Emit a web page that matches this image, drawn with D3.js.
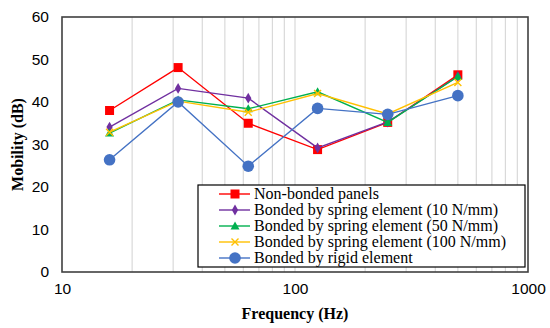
<!DOCTYPE html>
<html>
<head>
<meta charset="utf-8">
<script src="https://cdn.jsdelivr.net/npm/d3@7"></script>
<style>
  body { margin: 0; background: #fff; }
  svg { display: block; font-family: "Liberation Serif", "DejaVu Serif", "Times New Roman", serif; }
</style>
</head>
<body>
<div id="chart"></div>
<script>
// Data
const frequencies = [16, 31.5, 63, 125, 250, 500];
const nonBonded   = [38, 48.1, 35, 28.8, 35.2, 46.4];
const spring10    = [34.1, 43.2, 40.9, 29.2, 35.3, 46];
const spring50    = [32.7, 40.5, 38.4, 42.4, 35.2, 46];
const spring100   = [32.9, 40.2, 37.6, 42, 37.2, 44.6];
const rigid       = [26.4, 40, 24.9, 38.5, 37.1, 41.5];
const yTicks = [0, 10, 20, 30, 40, 50, 60];
const xTicks = [10, 100, 1000];

const series = [
  { name: 'Non-bonded panels',                        values: nonBonded, color: '#ff0000', symbol: 'square' },
  { name: 'Bonded by spring element (10 N/mm)',       values: spring10,  color: '#7030a0', symbol: 'diamond' },
  { name: 'Bonded by spring element (50 N/mm)',       values: spring50,  color: '#00b050', symbol: 'triangle' },
  { name: 'Bonded by spring element (100 N/mm)',      values: spring100, color: '#ffc000', symbol: 'cross' },
  { name: 'Bonded by rigid element',                  values: rigid,     color: '#4472c4', symbol: 'circle' },
];

const width = 550, height = 328;
const margin = { top: 17, right: 22, bottom: 56, left: 62 };

const svg = d3.select('#chart').append('svg')
  .attr('width', width).attr('height', height);

const x = d3.scaleLog().domain([10, 1000]).range([margin.left, width - margin.right]);
const y = d3.scaleLinear().domain([0, 60]).range([height - margin.bottom, margin.top]);

// minor + major vertical gridlines
const gridVals = [];
[10, 100].forEach(dec => { for (let k = 2; k <= 10; k++) gridVals.push(dec * k); });
svg.append('g')
  .selectAll('line')
  .data(gridVals.filter(v => v < 1000))
  .join('line')
  .attr('x1', d => x(d)).attr('x2', d => x(d))
  .attr('y1', y(60)).attr('y2', y(0))
  .attr('stroke', '#d9d9d9').attr('stroke-width', 1.2);

// axes
const xAxis = svg.append('g')
  .attr('transform', `translate(0,${y(0)})`)
  .call(d3.axisBottom(x).tickValues(xTicks).tickFormat(d3.format('d')).tickSize(0).tickPadding(11));
const yAxis = svg.append('g')
  .attr('transform', `translate(${x(10)},0)`)
  .call(d3.axisLeft(y).tickValues(yTicks).tickSize(0).tickPadding(13));
[xAxis, yAxis].forEach(a => {
  a.select('.domain').remove();
  a.selectAll('text').attr('font-size', 15.5).attr('fill', '#000')
    .attr('font-family', null);
});

// plot frame
svg.append('rect')
  .attr('x', x(10)).attr('y', y(60))
  .attr('width', x(1000) - x(10)).attr('height', y(0) - y(60))
  .attr('fill', 'none').attr('stroke', '#404040').attr('stroke-width', 1.6);

// axis titles
svg.append('text')
  .attr('x', (x(10) + x(1000)) / 2).attr('y', 319)
  .attr('text-anchor', 'middle').attr('font-size', 16).attr('font-weight', 'bold')
  .text('Frequency (Hz)');
svg.append('text')
  .attr('transform', `translate(23,${(y(0) + y(60)) / 2}) rotate(-90)`)
  .attr('text-anchor', 'middle').attr('font-size', 16).attr('font-weight', 'bold')
  .text('Mobility (dB)');

function drawMarker(g, s) {
  if (s.symbol === 'square') {
    g.append('rect').attr('x', -4.5).attr('y', -4.5).attr('width', 9).attr('height', 9).attr('fill', s.color);
  } else if (s.symbol === 'diamond') {
    g.append('path').attr('d', d3.symbol(d3.symbolDiamond, 34)()).attr('fill', s.color);
  } else if (s.symbol === 'triangle') {
    g.append('path').attr('d', 'M0,-4.5L4.5,3.5L-4.5,3.5Z').attr('fill', s.color);
  } else if (s.symbol === 'cross') {
    g.append('path').attr('d', 'M-3.5,-3.5L3.5,3.5M-3.5,3.5L3.5,-3.5')
      .attr('stroke', s.color).attr('stroke-width', 1.4).attr('fill', 'none');
  } else {
    g.append('circle').attr('r', 5.8).attr('fill', s.color);
  }
}

const line = d3.line().x((d, i) => x(frequencies[i])).y(d => y(d));

series.forEach(s => {
  const g = svg.append('g');
  g.append('path').datum(s.values)
    .attr('d', line).attr('fill', 'none')
    .attr('stroke', s.color).attr('stroke-width', 1.4);
  g.selectAll('g.pt')
    .data(s.values)
    .join('g')
    .attr('class', 'pt')
    .attr('transform', (d, i) => `translate(${x(frequencies[i])},${y(d)})`)
    .each(function() { drawMarker(d3.select(this), s); });
});

// legend
const legend = svg.append('g').attr('transform', 'translate(198,185)');
legend.append('rect')
  .attr('width', 327).attr('height', 82)
  .attr('fill', '#fff').attr('stroke', '#000').attr('stroke-width', 1.2);
series.forEach((s, i) => {
  const row = legend.append('g').attr('transform', `translate(0,${9 + i * 16})`);
  row.append('line').attr('x1', 21).attr('x2', 52).attr('y1', 0).attr('y2', 0)
    .attr('stroke', s.color).attr('stroke-width', 1.4);
  drawMarker(row.append('g').attr('transform', 'translate(37,0)'), s);
  row.append('text').attr('x', 56).attr('y', 5).attr('font-size', 16).attr('fill', '#000')
    .text(s.name);
});
</script>
</body>
</html>
